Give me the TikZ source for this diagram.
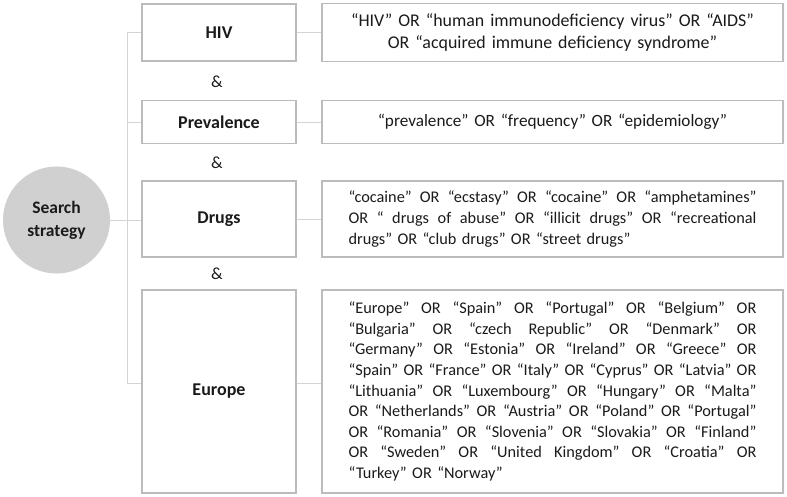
\documentclass[tikz,border=0pt]{standalone}
\usepackage{fontspec}
\setmainfont{Carlito}
\definecolor{boxgray}{HTML}{BCBCBC}
\definecolor{linegray}{HTML}{D4D4D4}
\definecolor{circgray}{HTML}{D0D0D0}
\definecolor{txtcol}{HTML}{1A1A1A}
\newcommand{\jl}[1]{\leavevmode\hbox to 408pt{\spaceskip=0.23em plus 5em minus 0.05em\relax #1}}
\begin{document}
\begin{tikzpicture}[x=1pt,y=-1pt,
  box/.style={draw=boxgray, line width=1.5pt, inner sep=0pt, text=txtcol},
  lbl/.style={box, minimum width=154pt, font=\fontsize{18}{21}\selectfont\bfseries},
  qry/.style={box, minimum width=461pt, text width=408pt, font=\fontsize{16.3}{20.6}\selectfont},
  amp/.style={text=txtcol, font=\fontsize{17}{20}\selectfont},
  conn/.style={draw=linegray, line width=0.8pt}]
\useasboundingbox (0,0) rectangle (787,497);

% circle
\node[circle, fill=circgray, minimum size=107pt, inner sep=0pt, align=center,
      text=txtcol, font=\fontsize{17.5}{23}\selectfont\bfseries] (circ) at (56.5,220) {Search\\strategy};

% left boxes
\node[lbl, minimum height=57pt] (hivL) at (219,32.5) {HIV};
\node[lbl, minimum height=43pt] (prevL) at (219,122) {Prevalence};
\node[lbl, minimum height=76pt] (drugL) at (219,219) {Drugs};
\node[lbl, minimum height=203pt] (eurL) at (219,391.5) {Europe};

% & labels
\node[amp] (a1) at (217,82) {\&};
\node[amp] (a2) at (217,163) {\&};
\node[amp] (a3) at (217,274) {\&};

% right boxes
\node[qry, minimum height=58pt, align=center, font=\fontsize{17.9}{21.5}\selectfont] (hivR) at (552.5,32.5)
  {“HIV” OR “human immunodeficiency virus” OR “AIDS”\\OR “acquired immune deficiency syndrome”};
\node[qry, minimum height=43pt, align=center, font=\fontsize{17.2}{20.6}\selectfont] (prevR) at (552.5,122)
  {“prevalence” OR “frequency” OR “epidemiology”};
\node[qry, minimum height=76pt, align=left] (drugR) at (552.5,219)
  {\jl{“cocaine” OR “ecstasy” OR “cocaine” OR “amphetamines”}\\
   \jl{OR “ drugs of abuse” OR “illicit drugs” OR “recreational}\\
   drugs” OR “club drugs” OR “street drugs”};
\node[qry, minimum height=203pt, align=left] (eurR) at (552.5,391.5)
  {\jl{“Europe” OR “Spain” OR “Portugal” OR “Belgium” OR}\\
   \jl{“Bulgaria” OR “czech Republic” OR “Denmark” OR}\\
   \jl{“Germany” OR “Estonia” OR “Ireland” OR “Greece” OR}\\
   \jl{“Spain” OR “France” OR “Italy” OR “Cyprus” OR “Latvia” OR}\\
   \jl{“Lithuania” OR “Luxembourg” OR “Hungary” OR “Malta”}\\
   \jl{OR “Netherlands” OR “Austria” OR “Poland” OR “Portugal”}\\
   \jl{OR “Romania” OR “Slovenia” OR “Slovakia” OR “Finland”}\\
   \jl{OR “Sweden” OR “United Kingdom” OR “Croatia” OR}\\
   “Turkey” OR “Norway”};

% spine connectors
\coordinate (sTop) at (127,32.5);
\coordinate (sBot) at (127,383);
\draw[conn] (sTop) -- (sBot);
\draw[conn] (sTop) -- (hivL.west);
\draw[conn] (prevL.west -| sTop) -- (prevL.west);
\draw[conn] (circ.east) -- (circ.east -| drugL.west);
\draw[conn] (sBot) -- (sBot -| eurL.west);

% left-to-right connectors
\draw[conn] (hivL.east) -- (hivL.east -| hivR.west);
\draw[conn] (prevL.east) -- (prevL.east -| prevR.west);
\draw[conn] (drugL.east) -- (drugL.east -| drugR.west);
\draw[conn] (sBot -| eurL.east) -- (sBot -| eurR.west);
\end{tikzpicture}
\end{document}
